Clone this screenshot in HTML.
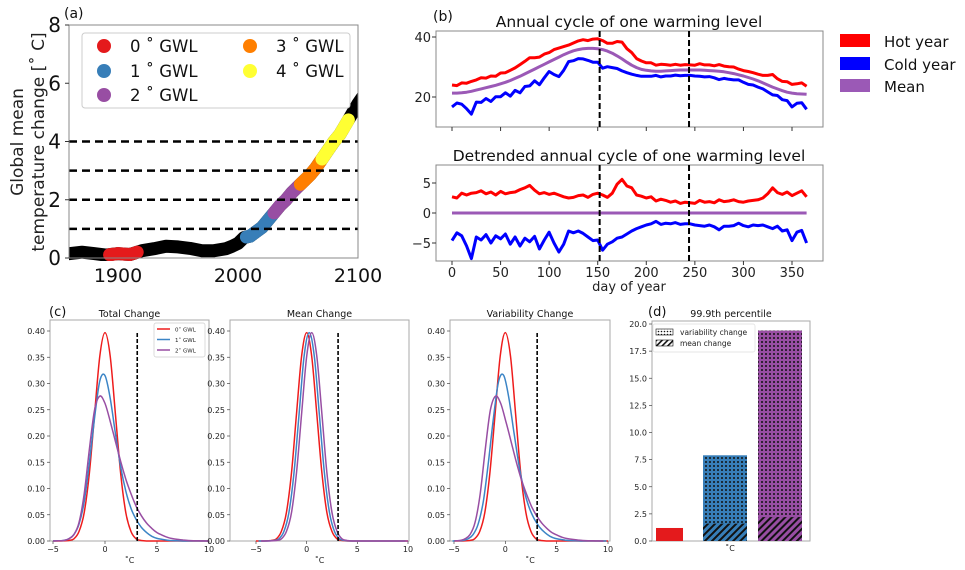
<!DOCTYPE html>
<html><head><meta charset="utf-8"><style>
html,body{margin:0;padding:0;background:#fff;}
svg{display:block;font-family:"DejaVu Sans","Liberation Sans",sans-serif;}
</style></head><body>
<svg id="fig" width="965" height="570" viewBox="0 0 965 570" xmlns="http://www.w3.org/2000/svg">
<defs>
<clipPath id="clip-a"><rect x="69" y="25" width="289" height="236"/></clipPath>
<pattern id="dots-blue" width="4" height="4" patternUnits="userSpaceOnUse"><rect width="4" height="4" fill="#377eb8"/><circle cx="2" cy="2" r="1" fill="#111"/></pattern>
<pattern id="dots-purple" width="4" height="4" patternUnits="userSpaceOnUse"><rect width="4" height="4" fill="#984ea3"/><circle cx="2" cy="2" r="1" fill="#111"/></pattern>
<pattern id="hatch-blue" width="5" height="5" patternUnits="userSpaceOnUse" patternTransform="rotate(45)"><rect width="5" height="5" fill="#377eb8"/><rect width="2" height="5" fill="#111"/></pattern>
<pattern id="hatch-purple" width="5" height="5" patternUnits="userSpaceOnUse" patternTransform="rotate(45)"><rect width="5" height="5" fill="#984ea3"/><rect width="2" height="5" fill="#111"/></pattern>
<pattern id="dots-white" width="3" height="3" patternUnits="userSpaceOnUse"><rect width="3" height="3" fill="#fff"/><circle cx="1.5" cy="1.5" r="0.8" fill="#111"/></pattern>
<pattern id="hatch-white" width="4" height="4" patternUnits="userSpaceOnUse" patternTransform="rotate(45)"><rect width="4" height="4" fill="#fff"/><rect width="1.6" height="4" fill="#111"/></pattern>
</defs>
<g id="ga" clip-path="url(#clip-a)"></g>
</svg>
<script>
// ---------- Panel (a) data ----------
const gmtYears = [1850,1860,1870,1880,1890,1900,1910,1920,1930,1940,1950,1960,1970,1980,1990,1995,2000,2005,2010,2015,2020,2025,2030,2035,2040,2045,2050,2055,2060,2065,2070,2075,2080,2085,2090,2095,2100,2105];
const gmtValues = [0.15,0.15,0.2,0.15,0.1,0.15,0.12,0.25,0.32,0.4,0.38,0.33,0.25,0.25,0.32,0.4,0.5,0.7,0.75,0.9,1.05,1.3,1.55,1.8,2.0,2.25,2.45,2.65,2.85,3.1,3.4,3.7,4.0,4.25,4.6,4.95,5.3,5.6];
const gwlLabels = ["0","1","2","3","4"];
const gwlStart = [1893,2007,2030,2052,2070];
const gwlEnd = [1916,2029,2053,2072,2092];
const gwlLines = [1,2,3,4];
const aYTicks = [0,2,4,6,8];
const aXTicks = [1900,2000,2100];
// ---------- Panel (b) data (5-day steps) ----------
const bDays = [];
for (let d = 0; d <= 365; d += 5) bDays.push(d);
const meanCycle = [21.3,21.3,21.4,21.6,21.9,22.3,22.7,23.1,23.5,23.9,24.4,24.9,25.5,26.2,26.9,27.7,28.5,29.3,30.1,30.9,31.7,32.5,33.3,34.1,34.8,35.4,35.8,36.1,36.2,36.2,36.1,35.8,35.3,34.6,33.7,32.7,31.6,30.6,29.8,29.2,28.9,28.7,28.6,28.6,28.7,28.8,28.9,29.0,29.0,29.0,29.0,29.0,28.9,28.8,28.7,28.6,28.4,28.1,27.8,27.4,27.0,26.5,26.0,25.4,24.7,24.0,23.3,22.7,22.1,21.6,21.3,21.1,21.0,20.9];
const hotAnom = [2.7,2.5,3.3,3.0,3.3,3.4,3.7,3.2,3.5,3.0,3.6,3.2,3.4,3.5,3.9,4.2,4.6,3.8,3.2,3.4,3.1,3.3,3.0,2.7,2.5,2.6,2.9,3.0,2.6,3.1,3.3,3.0,2.6,3.3,4.8,5.6,4.5,4.2,3.0,2.8,2.5,2.7,2.0,2.3,2.1,1.8,2.0,1.6,1.8,1.7,1.6,2.1,1.8,1.9,1.7,2.2,1.9,2.0,2.2,1.9,1.8,2.0,2.1,2.2,2.5,3.2,4.2,3.4,3.1,3.5,2.9,3.3,3.7,2.7];
const coldAnom = [-4.6,-3.3,-3.8,-5.5,-7.6,-4.0,-4.5,-3.6,-5.0,-3.8,-4.3,-3.5,-5.2,-4.0,-5.5,-4.2,-4.8,-3.9,-6.0,-4.5,-3.2,-5.0,-6.5,-5.2,-3.0,-3.3,-3.0,-3.4,-4.0,-4.6,-4.5,-6.2,-5.2,-4.8,-4.2,-4.0,-3.5,-3.0,-2.6,-2.3,-2.0,-1.8,-1.4,-1.9,-1.7,-1.8,-1.6,-1.9,-1.8,-1.8,-2.0,-2.1,-2.2,-2.0,-2.3,-2.8,-2.2,-2.2,-2.1,-1.7,-2.1,-2.3,-2.0,-2.1,-2.0,-2.3,-2.6,-2.2,-3.0,-2.8,-4.6,-3.2,-2.9,-5.0];
const seasonBounds = [152,244];
const bTopTicks = [20,40];
const bBotTicks = [-5,0,5];
const bXTicks = [0,50,100,150,200,250,300,350];
// ---------- Panel (c) data ----------
const pdfX = [-5,-4.5,-4,-3.5,-3,-2.5,-2,-1.5,-1,-0.5,0,0.5,1,1.5,2,2.5,3,3.5,4,4.5,5,5.5,6,6.5,7,7.5,8,8.5,9,9.5,10];
const pdf0 = [0,0,0.0001,0.001,0.004,0.018,0.054,0.13,0.242,0.352,0.397,0.352,0.242,0.13,0.054,0.018,0.004,0.001,0,0,0,0,0,0,0,0,0,0,0,0,0];
const pdf1 = [0,0.0003,0.001,0.004,0.012,0.032,0.075,0.15,0.235,0.305,0.315,0.272,0.205,0.142,0.095,0.062,0.041,0.026,0.016,0.009,0.005,0.003,0.0015,0.0007,0.0003,0,0,0,0,0,0];
const pdf2 = [0,0.0003,0.001,0.004,0.012,0.035,0.09,0.175,0.25,0.276,0.262,0.228,0.19,0.152,0.118,0.09,0.066,0.048,0.034,0.024,0.016,0.011,0.007,0.0045,0.003,0.002,0.001,0.0006,0.0003,0.0001,0];
const meanShift = [0,0.25,0.5];
const varShift = [0,-0.15,-0.45];
const threshold = 3.1;
const cYTicks = [0,0.05,0.1,0.15,0.2,0.25,0.3,0.35,0.4];
const cXTicks = [-5,0,5,10];
// ---------- Panel (d) data ----------
const pctTotal = [1.2,7.9,19.4];
const pctMean = [0,1.6,2.2];
const dYTicks = [0,2.5,5,7.5,10,12.5,15,17.5,20];

const NS = "http://www.w3.org/2000/svg";
const svg = document.getElementById('fig');
const ga = document.getElementById('ga');
function mk(tag, attrs, txt, parent){ const e=document.createElementNS(NS,tag); for(const k in attrs) e.setAttribute(k,attrs[k]); if(txt!==undefined&&txt!==null) e.textContent=txt; (parent||svg).appendChild(e); return e; }
function lin(d0,d1,r0,r1){ return v => r0+(v-d0)*(r1-r0)/(d1-d0); }
function smooth(pts){ let d="M"+pts[0][0].toFixed(1)+","+pts[0][1].toFixed(1);
  for(let i=0;i<pts.length-1;i++){ const p0=pts[Math.max(0,i-1)],p1=pts[i],p2=pts[i+1],p3=pts[Math.min(pts.length-1,i+2)];
    const c1=[p1[0]+(p2[0]-p0[0])/6,p1[1]+(p2[1]-p0[1])/6], c2=[p2[0]-(p3[0]-p1[0])/6,p2[1]-(p3[1]-p1[1])/6];
    d+=" C"+c1[0].toFixed(1)+","+c1[1].toFixed(1)+" "+c2[0].toFixed(1)+","+c2[1].toFixed(1)+" "+p2[0].toFixed(1)+","+p2[1].toFixed(1); }
  return d; }
function poly(pts){ return "M"+pts.map(p=>p[0].toFixed(1)+","+p[1].toFixed(1)).join(" L"); }
function interp(xs,ys,x){ for(let i=0;i<xs.length-1;i++){ if(x>=xs[i]&&x<=xs[i+1]) return ys[i]+(ys[i+1]-ys[i])*(x-xs[i])/(xs[i+1]-xs[i]); } return x<xs[0]?ys[0]:ys[ys.length-1]; }

// ================= Panel (a) =================
const xa = lin(1900,2100,118,358), ya = lin(0,8,258,25);
let e;
gwlLines.forEach(v=>{
  e = mk('line',{x1:69,x2:358,y1:ya(v),y2:ya(v),stroke:'#000','stroke-width':2.5,'stroke-dasharray':'8,5'});
  
  
});
e = mk('path',{d:poly(gmtYears.map((y,i)=>[xa(y),ya(gmtValues[i])])),fill:'none',stroke:'#000','stroke-width':13,'stroke-linejoin':'round','stroke-linecap':'round'},null,ga);


const gwlColors = ['#e41a1c','#377eb8','#984ea3','#ff7f00','#ffff33'];
gwlStart.forEach((s,k)=>{
  const pts=[]; for(let y=s;y<=gwlEnd[k];y+=1) pts.push([xa(y),ya(interp(gmtYears,gmtValues,y))]);
  e = mk('path',{d:poly(pts),fill:'none',stroke:gwlColors[k],'stroke-width':13,'stroke-linecap':'round'},null,ga);
  
  
});
e = mk('rect',{x:69,y:25,width:289,height:233,fill:'none',stroke:'#888','stroke-width':1});


aYTicks.forEach(v=>{
  e = mk('text',{x:61,y:ya(v)+7,'font-size':20,'text-anchor':'end',fill:'#111'},String(v));
  
  
  mk('line',{x1:65,x2:69,y1:ya(v),y2:ya(v),stroke:'#333'});
});
aXTicks.forEach(v=>{
  e = mk('text',{x:xa(v),y:282,'font-size':19,'text-anchor':'middle',fill:'#111'},String(v));
  
  
});
e = mk('text',{x:23,y:142,'font-size':17,'text-anchor':'middle',transform:'rotate(-90 23 142)',fill:'#222'},'Global mean');


e = mk('text',{x:44,y:142,'font-size':17,'text-anchor':'middle',transform:'rotate(-90 44 142)',fill:'#222'},'temperature change [˚ C]');


e = mk('text',{x:64,y:18,'font-size':14,fill:'#111'},'(a)');


e = mk('rect',{x:82,y:33,width:268,height:75,rx:3,fill:'#fff','fill-opacity':0.9,stroke:'#ccc'});


const legPos = [[104,46],[104,71],[104,95],[250,46],[250,71]];
gwlLabels.forEach((l,k)=>{
  e = mk('circle',{cx:legPos[k][0],cy:legPos[k][1],r:7,fill:gwlColors[k]});
  
  
  e = mk('text',{x:legPos[k][0]+26,y:legPos[k][1]+6,'font-size':16.5,fill:'#111'},l+' ˚ GWL');
  
  
});

// ================= Panel (b) =================
const xb = lin(0,350,452,792), yb1 = lin(20,40,97,37), yb2 = lin(0,5,213,183);
e = mk('rect',{x:436,y:31,width:387,height:96,fill:'none',stroke:'#888'});


e = mk('rect',{x:436,y:165,width:387,height:96,fill:'none',stroke:'#888'});


const hotTop = meanCycle.map((m,i)=>m+hotAnom[i]);
const coldTop = meanCycle.map((m,i)=>m+coldAnom[i]);
[[hotTop,'#ff0000','hot-year-line'],[coldTop,'#0000ff','cold-year-line'],[meanCycle,'#9b59b6','mean-line']].forEach(s=>{
  e = mk('path',{d:poly(bDays.map((d,i)=>[xb(d),yb1(s[0][i])])),fill:'none',stroke:s[1],'stroke-width':3,'stroke-linejoin':'round'});
  
  
});
[[hotAnom,'#ff0000','hot-year-anomaly'],[coldAnom,'#0000ff','cold-year-anomaly'],[meanCycle.map(()=>0),'#9b59b6','mean-anomaly']].forEach(s=>{
  e = mk('path',{d:poly(bDays.map((d,i)=>[xb(d),yb2(s[0][i])])),fill:'none',stroke:s[1],'stroke-width':3,'stroke-linejoin':'round'});
  
  
});
seasonBounds.forEach(d=>{
  [[31,127],[165,261]].forEach(r=>{
    e = mk('line',{x1:xb(d),x2:xb(d),y1:r[0],y2:r[1],stroke:'#000','stroke-width':2,'stroke-dasharray':'6,3'});
    
    
  });
});
bTopTicks.forEach(v=>{
  e = mk('text',{x:431,y:yb1(v)+5,'font-size':13,'text-anchor':'end',fill:'#222'},String(v));
  
  
  mk('line',{x1:432,x2:436,y1:yb1(v),y2:yb1(v),stroke:'#333'});
});
bBotTicks.forEach(v=>{
  e = mk('text',{x:431,y:yb2(v)+5,'font-size':13,'text-anchor':'end',fill:'#222'},v<0?'−'+(-v):String(v));
  
  
  mk('line',{x1:432,x2:436,y1:yb2(v),y2:yb2(v),stroke:'#333'});
});
bXTicks.forEach(v=>{
  mk('line',{x1:xb(v),x2:xb(v),y1:127,y2:131,stroke:'#333'});
  mk('line',{x1:xb(v),x2:xb(v),y1:261,y2:265,stroke:'#333'});
  e = mk('text',{x:xb(v),y:277,'font-size':13,'text-anchor':'middle',fill:'#222'},String(v));
  
  
});
e = mk('text',{x:629,y:291,'font-size':13,'text-anchor':'middle',fill:'#222'},'day of year');


e = mk('text',{x:629,y:27,'font-size':15.5,'text-anchor':'middle',fill:'#111'},'Annual cycle of one warming level');


e = mk('text',{x:629,y:161,'font-size':15.5,'text-anchor':'middle',fill:'#111'},'Detrended annual cycle of one warming level');


e = mk('text',{x:433,y:21,'font-size':14,fill:'#111'},'(b)');


[['Hot year','#ff0000',41],['Cold year','#0000ff',64],['Mean','#9b59b6',86]].forEach(l=>{
  e = mk('rect',{x:840,y:l[2]-7,width:30,height:13,fill:l[1]});
  
  
  e = mk('text',{x:884,y:l[2]+6,'font-size':15,fill:'#111'},l[0]);
  
  
});

// ================= Panel (c) =================
const cy = lin(0,0.4,541,331);
const cColors = ['#ee1c1c','#3c85c6','#984ea3'];
const pdfs = [pdf0,pdf1,pdf2];
const cPanels = [
  {name:'total-change',title:'Total Change',x0:50,x1:209,xs:lin(-5,10,53,209),shift:[0,0,0],use:[0,1,2]},
  {name:'mean-change',title:'Mean Change',x0:230,x1:409,xs:lin(-5,10,256,408),shift:meanShift,use:[0,0,0]},
  {name:'variability-change',title:'Variability Change',x0:450,x1:610,xs:lin(-5,10,454,608),shift:varShift,use:[0,1,2]}
];
cPanels.forEach(p=>{
  e = mk('rect',{x:p.x0,y:320,width:p.x1-p.x0,height:221,fill:'none',stroke:'#aaa'});
  
  
  cYTicks.forEach(v=>{
    mk('line',{x1:p.x0-3,x2:p.x0,y1:cy(v),y2:cy(v),stroke:'#444','stroke-width':0.7});
    e = mk('text',{x:p.x0-5,y:cy(v)+3,'font-size':8,'text-anchor':'end',fill:'#222'},v.toFixed(2));
    
    
  });
  cXTicks.forEach(v=>{
    mk('line',{x1:p.xs(v),x2:p.xs(v),y1:541,y2:544,stroke:'#444','stroke-width':0.7});
    e = mk('text',{x:p.xs(v),y:552,'font-size':8,'text-anchor':'middle',fill:'#222'},v<0?'−'+(-v):String(v));
    
    
  });
  e = mk('text',{x:(p.x0+p.x1)/2,y:563,'font-size':8,'text-anchor':'middle',fill:'#222'},'˚C');
  
  
  e = mk('text',{x:(p.x0+p.x1)/2,y:317,'font-size':9.5,'text-anchor':'middle',fill:'#111'},p.title);
  
  
  [0,1,2].forEach(k=>{
    const ys = pdfs[p.use[k]];
    const pts = pdfX.map((x,i)=>[p.xs(x+p.shift[k]),cy(ys[i])]).filter(q=>q[0]>=p.x0&&q[0]<=p.x1);
    e = mk('path',{d:smooth(pts),fill:'none',stroke:cColors[k],'stroke-width':1.5});
    
    
  });
  e = mk('line',{x1:p.xs(threshold),x2:p.xs(threshold),y1:cy(0),y2:cy(0.4),stroke:'#000','stroke-width':1.6,'stroke-dasharray':'4,2'});
  
  
});
e = mk('rect',{x:154,y:323,width:51,height:34,rx:2,fill:'#fff',stroke:'#ccc','stroke-width':0.7});


['0','1','2'].forEach((l,k)=>{
  mk('line',{x1:157,x2:170,y1:329+k*10.5,y2:329+k*10.5,stroke:cColors[k],'stroke-width':1.5});
  e = mk('text',{x:175,y:331.5+k*10.5,'font-size':5.5,fill:'#222'},l+'˚ GWL');
  
  
});
e = mk('text',{x:49,y:316,'font-size':13,fill:'#111'},'(c)');



// ================= Panel (d) =================
const dy = lin(0,20,541,324);
const barX = [656,703,758], barW = [27,44,44];
const barFill = ['#e41a1c','url(#dots-blue)','url(#dots-purple)'];
const barHatch = [null,'url(#hatch-blue)','url(#hatch-purple)'];
e = mk('rect',{x:652,y:321,width:158,height:220,fill:'none',stroke:'#aaa'});


pctTotal.forEach((v,k)=>{
  e = mk('rect',{x:barX[k],y:dy(v),width:barW[k],height:dy(0)-dy(v),fill:barFill[k]});
  
  
  if(barHatch[k]){
    e = mk('rect',{x:barX[k],y:dy(pctMean[k]),width:barW[k],height:dy(0)-dy(pctMean[k]),fill:barHatch[k]});
    
    
  }
});
dYTicks.forEach(v=>{
  mk('line',{x1:649,x2:652,y1:dy(v),y2:dy(v),stroke:'#444','stroke-width':0.7});
  e = mk('text',{x:647,y:dy(v)+3,'font-size':8,'text-anchor':'end',fill:'#222'},v.toFixed(1));
  
  
});
e = mk('text',{x:730,y:551,'font-size':8,'text-anchor':'middle',fill:'#222'},'˚C');


e = mk('text',{x:731,y:317,'font-size':9.5,'text-anchor':'middle',fill:'#111'},'99.9th percentile');


e = mk('text',{x:648,y:316,'font-size':13,fill:'#111'},'(d)');


e = mk('rect',{x:653,y:324,width:102,height:28,rx:2,fill:'#fff',stroke:'#ddd','stroke-width':0.7});


[['variability change','url(#dots-white)',332],['mean change','url(#hatch-white)',343]].forEach(l=>{
  mk('rect',{x:656,y:l[2]-3,width:17,height:6,fill:l[1],stroke:'#111','stroke-width':0.6});
  e = mk('text',{x:680,y:l[2]+3,'font-size':7.5,fill:'#222'},l[0]);
  
  
});
</script>
</body></html>
